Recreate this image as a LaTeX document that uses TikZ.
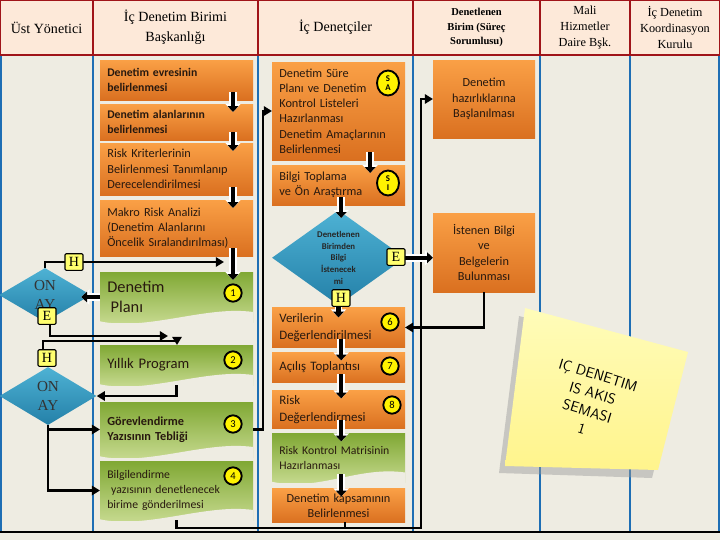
\documentclass[tikz,border=0pt]{standalone}
\usepackage{fontspec}
\setmainfont{Carlito}
\newfontfamily\hdfont{Liberation Serif}
\usepackage{tikz}
\usetikzlibrary{shapes,arrows.meta,positioning,calc}

\definecolor{hdpeach}{RGB}{253,233,217}
\definecolor{hdred}{RGB}{160,20,25}
\definecolor{lanebg}{RGB}{238,236,226}
\definecolor{laneblue}{RGB}{30,110,180}
\definecolor{orTop}{RGB}{250,160,70}
\definecolor{orBot}{RGB}{218,112,32}
\definecolor{grTop}{RGB}{128,168,52}
\definecolor{grBot}{RGB}{196,216,140}
\definecolor{diaTop}{RGB}{78,178,212}
\definecolor{diaBot}{RGB}{36,128,168}
\definecolor{labyel}{RGB}{255,255,110}
\definecolor{noteTop}{RGB}{255,252,185}
\definecolor{noteBot}{RGB}{255,244,140}
\definecolor{txtdark}{RGB}{40,25,15}

\begin{document}
\begin{tikzpicture}[x=0.3mm, y=-0.3mm,
    hcell/.style={rectangle, draw=hdred, line width=2.5pt, fill=hdpeach, minimum height=16.5mm, outer sep=0pt, inner sep=1pt, align=center, font=\hdfont\fontsize{12}{17}\selectfont},
    obox/.style={rectangle, top color=orTop, bottom color=orBot, text=txtdark, outer sep=0pt, inner xsep=2.2mm, inner ysep=1pt, align=left, font=\fontsize{10.5}{13}\selectfont},
    gbox/.style={rectangle, top color=grTop, bottom color=grBot, text=txtdark, outer sep=0pt, inner xsep=2.2mm, inner ysep=1pt, align=left, font=\fontsize{10.5}{13}\selectfont,
        path picture={\fill[lanebg] ([yshift=0.2mm]path picture bounding box.south west) .. controls +(14mm,-3mm) and +(-14mm,2mm) .. ([yshift=3mm]path picture bounding box.south east) -- ([yshift=-1mm]path picture bounding box.south east) -- ([yshift=-1mm]path picture bounding box.south west) -- cycle;}},
    colb/.style={minimum width=45.9mm, text width=41.5mm},
    colc/.style={minimum width=39.9mm, text width=35.5mm},
    cold/.style={minimum width=30.6mm, text width=26.2mm, align=center},
    onay/.style={diamond, top color=diaTop, bottom color=diaBot, inner sep=0pt, align=center, text=black!80, font=\hdfont\fontsize{13}{16}\selectfont},
    yn/.style={rectangle, fill=labyel, draw=black, line width=1pt, rounded corners=1pt, minimum width=5.4mm, minimum height=5mm, inner sep=0pt, font=\hdfont\fontsize{12}{12}\selectfont},
    num/.style={circle, fill=yellow, draw=black, line width=1.6pt, minimum size=5.2mm, inner sep=0pt, font=\fontsize{9}{9}\selectfont},
    conn/.style={draw=black, line width=2pt, -{Triangle[length=7pt,width=8pt]}},
    darr/.style={draw=black, line width=3.5pt, -{Triangle[length=5pt,width=9pt]}, preaction={draw=white, line width=6.5pt, -{Triangle[length=7pt,width=13pt]}}},
    lane/.style={draw=laneblue, line width=1.6pt}]

    \useasboundingbox (0,0) rectangle (720,540);
    \fill[lanebg] (0,55) rectangle (720,540);

    % Header
    \node (hd1) [hcell, minimum width=27.9mm] at (46.5,27.5) {Üst Yönetici};
    \node (hd2) [hcell, minimum width=49.5mm, right=0pt of hd1] {İç Denetim Birimi\\Başkanlığı};
    \node (hd3) [hcell, minimum width=46.5mm, right=0pt of hd2] {İç Denetçiler};
    \node (hd4) [hcell, minimum width=38.1mm, right=0pt of hd3, font=\hdfont\bfseries\fontsize{9}{12.5}\selectfont] {Denetlenen\\Birim (Süreç\\Sorumlusu)};
    \node (hd5) [hcell, minimum width=27mm, right=0pt of hd4, font=\hdfont\fontsize{10.5}{14}\selectfont] {Mali\\Hizmetler\\Daire Bşk.};
    \node (hd6) [hcell, minimum width=27mm, right=0pt of hd5, font=\hdfont\fontsize{10.5}{14}\selectfont] {İç Denetim\\Koordinasyon\\Kurulu};

    % Lanes
    \foreach \c in {hd1,hd2,hd3,hd4,hd5}
        \draw[lane] ([yshift=-1.2pt]\c.south east) -- (\c.south east |- 0,532);
    \draw[lane] (1,56) -- (1,532);
    \draw[lane] (719,56) -- (719,532);
    \draw[black, line width=1.2pt] (0,532) -- (720,532);

    % Ic Denetim Birimi Baskanligi
    \node (a1) [obox, colb, minimum height=12mm, font=\bfseries\fontsize{10}{13.5}\selectfont] at (176.5,80) {Denetim evresinin\\belirlenmesi};
    \node (a2) [obox, colb, minimum height=10.8mm, below=1.2mm of a1, font=\bfseries\fontsize{10}{13.5}\selectfont] {Denetim alanlarının\\belirlenmesi};
    \node (a3) [obox, colb, minimum height=15.6mm, below=0.9mm of a2] {Risk Kriterlerinin\\Belirlenmesi Tanımlanıp\\Derecelendirilmesi};
    \node (a4) [obox, colb, minimum height=16.8mm, below=1.5mm of a3] {Makro Risk Analizi\\(Denetim Alanlarını\\Öncelik Sıralandırılması)};
    \node (plan) [gbox, colb, minimum height=15mm, below=4.8mm of a4, font=\fontsize{14}{17}\selectfont] {Denetim\\\hspace{0.2em}Planı};
    \node (yp) [gbox, colb, minimum height=12mm, below=6.9mm of plan, font=\fontsize{12.5}{15}\selectfont] {Yıllık Program};
    \node (gt) [gbox, colb, minimum height=16.5mm, below=5.1mm of yp, font=\bfseries\fontsize{10.5}{13}\selectfont] {Görevlendirme\\Yazısının Tebliği};
    \node (bg) [gbox, colb, minimum height=17.7mm, below=1.2mm of gt, font=\fontsize{10}{12.5}\selectfont] {Bilgilendirme\\\ yazısının denetlenecek\\birime gönderilmesi};

    % Ic Denetciler
    \node (ds) [obox, colc, minimum height=29.4mm] at (338.5,111) {Denetim Süre\\Planı ve Denetim\\Kontrol Listeleri\\Hazırlanması\\Denetim Amaçlarının\\Belirlenmesi};
    \node (bt) [obox, colc, minimum height=12mm, below=1.5mm of ds] {Bilgi Toplama\\ve Ön Araştırma};
    \node (q) [onay, shape aspect=1.4, minimum width=39.9mm, minimum height=28.5mm, below=1.5mm of bt, text=black!85, font=\bfseries\fontsize{7.5}{10}\selectfont] {Denetlenen\\Birimden\\Bilgi\\İstenecek\\mi};
    \node (vd) [obox, colc, minimum height=12mm, below=0.6mm of q, font=\fontsize{11}{14}\selectfont] {Verilerin\\Değerlendirilmesi};
    \node (acl) [obox, colc, minimum height=9mm, below=1.5mm of vd, font=\fontsize{11}{14}\selectfont] {Açılış Toplantısı};
    \node (rd) [obox, colc, minimum height=11.4mm, below=2.4mm of acl, font=\fontsize{11}{14}\selectfont] {Risk\\Değerlendirmesi};
    \node (rk) [gbox, colc, minimum height=14.7mm, below=1.5mm of rd, font=\fontsize{10}{13}\selectfont] {Risk Kontrol Matrisinin\\Hazırlanması\\[2mm]};
    \node (dk) [obox, colc, minimum height=10.2mm, below=1.8mm of rk, align=center] {Denetim kapsamının\\Belirlenmesi};

    % Denetlenen Birim
    \node (dh) [obox, cold, minimum height=23.4mm] at (484,99) {Denetim\\hazırlıklarına\\Başlanılması};
    \node (ib) [obox, cold, minimum height=23.7mm, below=22.5mm of dh] {İstenen Bilgi\\ve\\Belgelerin\\Bulunması};

    % Ust Yonetici
    \node (o1) [onay, shape aspect=1.7, minimum width=27.6mm, minimum height=16.2mm] at (45,295) {ON\\AY};
    \node (o2) [onay, shape aspect=1.7, minimum width=29.1mm, minimum height=17.4mm] at (48,396) {ON\\AY};

    % Connectors
    \coordinate (h1end) at (224,262);
    \coordinate (e1end) at (168,336);
    \coordinate (h2bend) at (177,341);
    \coordinate (botr) at (421,528);

    \foreach \u/\v in {a1/a2,a2/a3,a3/a4,a4/plan}
        \draw[darr] ([xshift=-6mm,yshift=2.4mm]\u.south east) -- ([xshift=-6mm,yshift=-2.4mm]\v.north east);
    \draw[darr] ([xshift=9.5mm,yshift=2.4mm]ds.south) -- ([xshift=9.5mm,yshift=-2.4mm]bt.north);
    \foreach \u/\v in {bt/q,vd/acl,acl/rd,rd/rk,rk/dk}
        \draw[darr] ([xshift=0.8mm,yshift=2.4mm]\u.south) -- ([xshift=0.8mm,yshift=-2.4mm]\v.north);
    \draw[darr] ([yshift=4mm]q.south) -- ([yshift=-3mm]vd.north);

    \draw[conn] (o1.north) |- (h1end);
    \draw[darr] (plan.west) -- ([xshift=-3mm]o1.east |- plan.west);
    \draw[conn] ([xshift=1.5mm]o1.south) |- (e1end);
    \draw[conn] ([xshift=-1.5mm]o2.north) |- (h2bend) -- (yp.north -| h2bend);
    \draw[conn] (yp.south) |- (o2.east);
    \draw[conn] (o2.south) |- (gt.west);
    \draw[conn] (o2.south) |- (bg.west);
    \draw[conn] (gt.east) -- ++(10,0) |- (ds.west);
    \draw[conn] (bg.south) |- (botr) |- (dh.west);
    \draw[conn, -] ([xshift=2mm]dk.south) |- (botr);
    \draw[darr] (q.east) -- (q.east -| ib.west);
    \draw[conn] (ib.south) |- (vd.east);

    % Labels
    \node (lh1) [yn] at (74,262) {H};
    \node (le1) [yn] at (47,316) {E};
    \node (lh2) [yn] at (47,358) {H};
    \node (le3) [yn] at (396,257) {E};
    \node (lh3) [yn] at (341,298) {H};
    \node (n1) [num] at (233,293) {1};
    \node (n2) [num] at (233,360) {2};
    \node (n3) [num] at (233,424) {3};
    \node (n4) [num] at (233,476) {4};
    \node (n6) [num] at (390,322) {6};
    \node (n7) [num] at (390,366) {7};
    \node (n8) [num] at (392,405) {8};
    \node (sa) [num, ellipse, minimum width=6.6mm, minimum height=7.5mm, align=center, font=\bfseries\fontsize{7.5}{8}\selectfont] at (388,83) {S\\A};
    \node (si) [num, ellipse, minimum width=6.6mm, minimum height=7.5mm, align=center, font=\bfseries\fontsize{7.5}{8}\selectfont] at (388,183) {S\\I};

    % Note
    \fill[black!40, opacity=.45] (519,316) -- (682,358) -- (652,478) -- (499,473) -- cycle;
    \shade[top color=noteTop, bottom color=noteBot] (525,308) -- (688,352) -- (658,470) -- (505,466) -- cycle;
    \node (nt) [rotate=-17, align=center, font=\sffamily\fontsize{12.5}{16}\selectfont] at (590,402) {IÇ DENETIM\\IS AKIS\\SEMASI\\1};
\end{tikzpicture}
\end{document}
